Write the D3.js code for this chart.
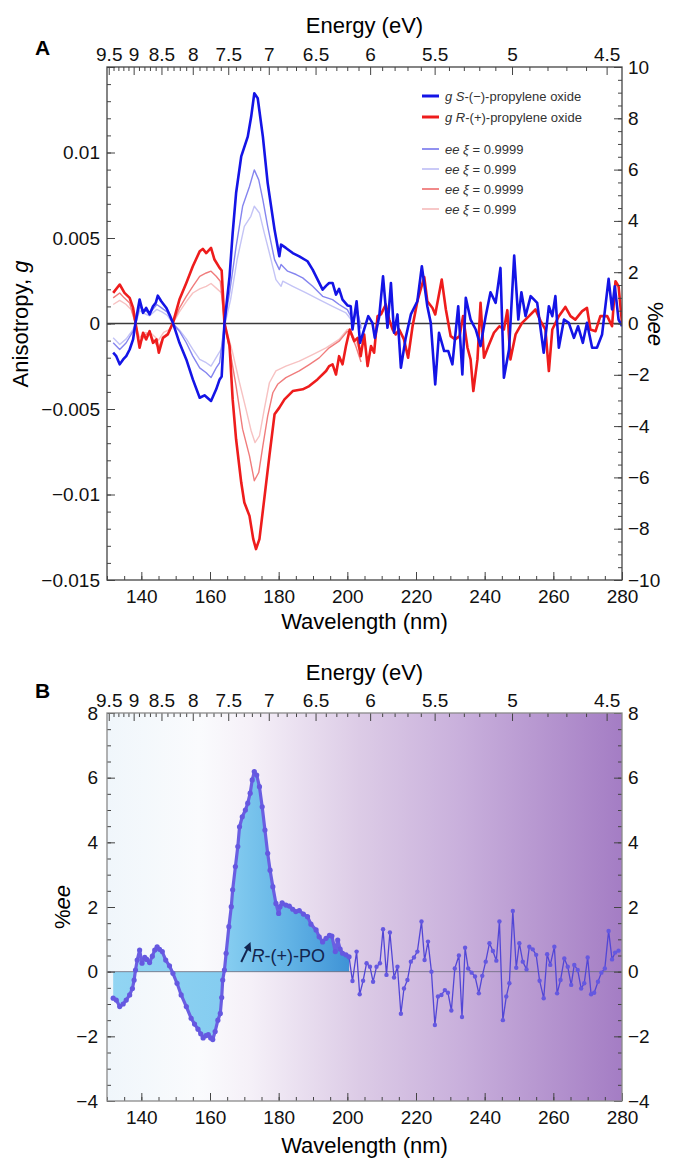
<!DOCTYPE html>
<html>
<head>
<meta charset="utf-8">
<script src="https://cdn.jsdelivr.net/npm/d3@7"></script>
<style>
    body { margin: 0; background: #fff; }
    svg { display: block; font-family: 'Liberation Sans', Arial, Helvetica, sans-serif; }
</style>
</head>
<body>
<svg id="fig" width="684" height="1159"></svg>
<script>
// ---------- Panel A data: anisotropy g (in units of 1e-3) ----------
const wlS = [131.8,132.7,133.7,134.7,135.6,136.6,137.6,138.3,139.5,140.5,141.4,142.4,143.4,144.2,144.8,145.8,147.3,148.2,149.2,151.1,153.1,155.0,157.0,158.4,160.3,161.8,162.8,163.4,164.2,165.7,166.6,167.6,169.1,171.0,172.0,172.9,173.9,175.4,176.8,178.8,180.2,180.7,182.1,184.1,186.0,188.4,189.9,192.8,193.8,194.7,195.7,196.7,197.6,198.6,200.1,201.0,201.5,202.7,203.7,204.9,206.1,207.3,208.0,209.3,210.4,211.7,212.7,213.6,214.6,215.6,217.0,218.5,220.4,221.7,223.3,224.3,225.6,226.7,228.2,229.4,230.6,232.3,233.5,234.5,235.9,237.4,238.8,240.3,241.7,243.2,244.6,245.6,247.1,248.6,249.8,250.7,251.9,253.4,255.3,257.2,258.7,259.7,260.6,261.6,263.1,264.5,266.0,267.2,268.6,269.8,271.3,272.7,274.2,276.1,277.1,277.9,279.0,280.0];
const gS = [-1.71,-1.91,-2.39,-2.10,-1.91,-1.52,-0.93,0.04,1.40,0.62,0.91,0.53,1.01,1.21,1.63,1.30,0.91,0.53,0.04,-1.13,-2.10,-3.27,-4.34,-4.20,-4.53,-3.85,-3.27,-3.10,0.00,2.76,5.29,7.63,9.77,10.93,12.10,13.46,13.17,10.93,8.21,5.49,3.93,4.61,4.42,4.12,3.93,3.64,3.15,1.98,2.20,2.37,2.37,1.69,2.02,1.40,1.05,1.01,-0.35,1.30,-1.13,-0.35,0.43,0.04,-0.84,0.43,2.76,-0.25,2.37,-0.54,0.53,-2.59,-0.84,0.53,1.30,3.35,1.01,0.04,-3.56,-0.54,-1.61,-1.61,-2.39,1.01,-2.98,1.50,0.23,-0.35,-1.32,0.43,1.83,1.21,3.25,-3.17,-1.52,3.97,0.23,1.83,0.43,1.60,1.21,-1.71,1.01,0.43,1.60,-1.42,0.23,0.04,-0.84,-0.16,-1.13,0.04,-1.42,-1.42,-0.64,2.61,0.82,2.18,0.23,-0.16];

const wlR = [131.8,133.7,135.1,136.6,137.6,138.3,139.5,140.5,141.4,142.4,143.4,144.4,145.1,146.3,147.7,149.2,151.1,153.1,155.0,157.0,157.9,158.9,160.3,161.3,162.8,163.4,164.2,165.7,166.6,167.6,169.1,170.0,171.5,172.6,173.4,174.4,175.8,177.3,178.8,180.2,181.7,184.1,187.0,188.9,191.3,193.8,194.7,195.7,196.7,197.6,198.6,199.6,200.7,202.0,203.0,203.9,204.9,205.9,206.9,207.8,208.8,209.8,211.2,212.2,213.2,214.1,215.1,216.5,217.7,219.0,220.4,222.4,223.3,224.8,225.6,227.5,228.7,230.1,231.4,232.7,233.7,235.0,235.9,236.7,237.9,238.8,239.8,241.1,242.7,244.3,245.6,246.6,247.5,249.0,250.9,252.9,254.8,256.3,257.7,258.7,259.7,261.6,263.5,265.0,266.4,268.4,269.8,270.8,272.3,273.7,275.7,277.1,278.1,279.0,280.0];
const gR = [1.79,2.28,1.79,1.50,0.91,0.04,-1.42,-0.54,-0.93,-0.45,-1.13,-0.93,-1.71,-0.84,-0.64,0.04,1.40,2.37,3.35,4.22,4.36,4.12,4.42,3.74,3.25,3.10,0.04,-1.32,-4.44,-6.77,-9.30,-10.47,-11.25,-12.61,-13.19,-12.61,-10.27,-7.74,-5.31,-4.92,-4.44,-3.95,-3.85,-3.66,-3.27,-2.78,-2.49,-2.39,-2.98,-1.91,-2.39,-1.32,-0.35,-1.03,-0.84,-1.91,-0.64,-2.49,-1.32,-1.71,0.43,0.53,1.11,0.23,-0.35,-0.64,-0.35,-0.93,-2.00,-0.16,1.30,2.72,1.30,0.91,0.53,2.57,0.82,-0.74,-0.93,-0.74,0.43,-1.42,-2.10,-3.95,-2.10,1.21,-2.00,-1.32,-0.54,-0.16,-0.35,0.78,-2.10,-0.64,0.04,0.43,0.82,0.14,-0.35,-2.78,-0.35,0.43,0.97,0.43,0.23,0.72,0.91,-0.35,-0.45,0.43,0.43,-0.16,2.47,2.18,0.04];

// ---------- Panel A data: %ee curves (right axis) ----------
const wlEeS4 = [131.8,133.7,135.6,137.6,138.4,139.5,141.0,142.4,144.5,146.0,147.5,149.2,151.1,153.1,155.0,157.0,158.9,160.3,161.8,162.8,164.2,165.7,167.6,169.5,171.5,172.9,174.2,175.4,176.8,178.8,180.2,180.7,182.6,185.1,187.0,189.9,192.8,195.7,197.6,200.0,201.5,203.0,204.0];
const eeS4 = [-0.75,-1.01,-0.75,-0.30,0.03,0.65,0.50,0.40,0.74,0.60,0.45,0.00,-0.30,-0.75,-1.27,-1.73,-1.92,-2.11,-1.73,-1.53,0.00,1.19,3.00,4.57,5.34,5.99,5.60,4.82,3.79,2.49,2.10,2.30,2.04,1.91,1.78,1.45,1.06,0.93,0.74,0.54,0.16,0.50,-0.20];
const wlEeS3 = [131.8,133.7,135.6,137.6,138.4,139.5,141.0,142.4,144.5,146.0,147.5,149.2,151.1,153.1,155.0,157.0,158.9,160.3,162.3,163.3,164.4,166.0,167.9,170.0,171.9,172.9,174.4,175.8,177.3,179.2,180.7,181.2,184.1,188.0,191.8,195.7,199.6,201.5,203.0,204.0];
const eeS3 = [-0.56,-0.82,-0.60,-0.23,0.00,0.50,0.38,0.30,0.55,0.45,0.33,0.00,-0.25,-0.60,-1.01,-1.40,-1.53,-1.66,-1.21,-1.00,0.00,0.93,2.49,3.79,4.18,4.57,4.31,3.53,2.75,1.71,1.45,1.65,1.45,1.19,0.93,0.67,0.41,0.09,0.40,-0.10];
const wlEeR4 = [131.8,133.7,135.0,136.6,138.3,139.5,141.0,142.4,143.5,145.0,146.5,148.0,149.2,151.1,153.1,155.0,157.0,158.9,160.3,161.8,163.0,164.2,166.1,167.6,169.5,171.5,172.9,174.2,175.4,176.8,178.3,179.7,182.1,186.0,188.9,191.8,194.7,197.6,200.0,201.0,202.5,204.0];
const eeR4 = [1.00,1.19,1.00,0.80,0.00,-0.80,-0.45,-0.35,-0.65,-0.95,-0.50,-0.35,0.00,0.60,1.06,1.45,1.84,1.97,2.04,1.84,1.65,0.00,-1.27,-2.44,-4.12,-5.16,-6.13,-5.81,-4.77,-3.61,-2.70,-2.37,-2.11,-1.85,-1.60,-1.34,-0.95,-0.69,-0.30,-0.40,-0.90,-1.50];
const wlEeR3 = [131.8,133.7,135.5,137.0,138.3,139.5,141.0,143.0,145.0,146.5,148.0,149.2,151.1,153.1,155.0,157.0,158.9,160.3,162.3,163.3,164.3,166.6,168.6,170.5,172.0,173.1,174.4,175.8,177.3,179.2,182.1,186.0,189.9,193.8,197.6,200.0,201.0,202.5,204.0];
const eeR3 = [0.74,0.90,0.75,0.55,0.00,-0.55,-0.35,-0.40,-0.65,-0.35,-0.25,0.00,0.45,0.85,1.19,1.35,1.45,1.56,1.32,1.20,0.00,-1.14,-2.31,-3.35,-4.19,-4.64,-4.38,-3.35,-2.31,-1.85,-1.66,-1.47,-1.21,-0.95,-0.62,-0.23,-0.30,-0.70,-1.20];

// ---------- Panel B data: %ee of R-(+)-PO ----------
const wlB = [131.8,132.7,133.7,134.7,135.6,136.6,137.4,137.9,138.3,138.8,139.5,140.2,141.0,141.6,142.4,143.2,143.9,144.6,145.3,146.1,147.1,148.2,149.2,150.4,151.6,153.1,154.5,155.5,156.5,157.3,158.0,158.8,159.5,160.2,160.8,161.5,162.3,163.0,163.4,163.7,164.2,164.7,165.5,166.2,166.6,167.4,168.1,168.6,169.4,170.3,171.0,171.7,172.3,172.9,173.6,174.4,175.2,176.0,176.8,177.5,178.3,179.2,180.0,180.4,181.0,182.1,183.1,184.1,185.0,186.0,187.2,188.4,189.4,190.9,191.8,192.8,193.8,194.8,195.5,196.5,197.2,197.9,198.6,199.6,200.5,201.5,202.7,203.6,204.6,205.6,206.6,207.5,208.5,209.5,210.4,211.4,212.4,213.6,214.6,215.6,216.5,217.5,218.5,219.4,220.4,221.6,222.5,223.5,224.5,225.5,226.4,227.4,228.4,229.3,230.3,231.3,232.5,233.4,234.3,235.2,236.2,237.2,238.3,239.3,240.3,241.4,242.4,243.4,244.3,245.3,246.3,247.2,248.2,249.2,250.1,251.1,252.2,253.0,254.0,255.0,256.0,257.2,258.2,259.1,260.3,261.1,262.1,263.2,264.2,265.2,266.1,267.1,268.1,269.0,270.0,271.0,271.9,273.0,274.0,275.0,276.1,277.1,278.0,279.0];
const eeB = [-0.82,-0.88,-1.08,-1.00,-0.88,-0.72,-0.52,-0.26,0.05,0.36,0.67,0.26,0.44,0.38,0.28,0.48,0.67,0.77,0.69,0.62,0.36,0.18,-0.05,-0.36,-0.72,-1.08,-1.44,-1.62,-1.78,-1.92,-2.05,-1.98,-1.95,-2.05,-2.10,-1.85,-1.50,-1.29,-0.80,-0.26,0.05,0.57,1.39,2.01,2.53,3.25,3.87,4.48,4.79,5.00,5.21,5.52,5.93,6.19,6.08,5.72,5.10,4.38,3.66,3.14,2.63,2.11,1.80,2.01,2.13,2.06,2.03,1.93,1.86,1.89,1.78,1.70,1.47,1.29,1.08,0.92,1.03,1.12,1.10,0.62,0.98,0.70,0.57,0.52,0.46,-0.29,0.62,-0.70,-0.28,0.26,0.15,-0.31,0.15,0.26,1.31,-0.10,1.21,-0.18,0.15,-1.30,-0.52,-0.26,0.31,0.44,0.62,1.55,0.36,0.93,0.00,-1.65,-0.77,-0.72,-0.57,-0.65,-1.20,0.10,0.50,-1.40,0.74,0.10,-0.03,-0.15,-0.67,-0.13,0.31,0.88,0.64,0.34,1.55,-1.50,-0.77,-0.36,1.88,0.12,0.88,0.31,0.07,0.77,0.69,0.52,-0.28,-0.82,0.54,0.21,0.77,-0.67,-0.26,0.41,0.15,-0.41,0.21,0.05,-0.52,-0.36,0.44,-0.70,-0.65,-0.31,-0.03,0.10,1.26,0.38,0.59,0.65];
const fillEndWl = 200.5; // shaded region ends here

// ---------- Axis tick values ----------
const energyTicks = [9.5, 9, 8.5, 8, 7.5, 7, 6.5, 6, 5.5, 5, 4.5];
const wlTicks = [140, 160, 180, 200, 220, 240, 260, 280];
const gTicks = [-15, -10, -5, 0, 5, 10, 15];
const eeTicksA = [-10, -8, -6, -4, -2, 0, 2, 4, 6, 8, 10];
const eeTicksB = [-4, -2, 0, 2, 4, 6, 8];

const legendItems = [
    { kind: "g", chir: "S", rest: "-(\u2212)-propylene oxide", color: "#1414e6", width: 2.6 },
    { kind: "g", chir: "R", rest: "-(+)-propylene oxide", color: "#ee1c1c", width: 2.6 },
    { kind: "ee", rest: " = 0.9999", color: "#8585ef", width: 1.4 },
    { kind: "ee", rest: " = 0.999", color: "#c4c4f6", width: 1.4 },
    { kind: "ee", rest: " = 0.9999", color: "#f07c7c", width: 1.4 },
    { kind: "ee", rest: " = 0.999", color: "#f7c2c2", width: 1.4 }
];

const hc = 1239.84; // eV*nm
const tickFont = 19;
const titleFont = 22;

const svg = d3.select("#fig");
svg.append("rect").attr("width", 684).attr("height", 1159).attr("fill", "#fff");

const xScale = d3.scaleLinear().domain([130, 280]).range([107, 622]);
const yG = d3.scaleLinear().domain([-15, 15]).range([580, 67]);
const yEeA = d3.scaleLinear().domain([-10, 10]).range([580, 67]);
const yEeB = d3.scaleLinear().domain([-4, 8]).range([1101, 713]);

const minorEnergy = d3.range(45, 96).filter(k => k % 5 !== 0).map(k => hc / (k / 10));
const minorWl = d3.range(130, 281, 5);

const styleAxis = (g) => {
    g.attr("font-family", null).attr("font-size", tickFont);
    g.select(".domain").remove();
    g.selectAll(".tick line").attr("stroke", "#444").attr("stroke-width", 1);
    g.selectAll(".tick text").attr("fill", "#111");
};

// Draws the frame, all ticks and tick labels for one panel
const drawFrame = (yLeft, yRight, leftMajor, leftMinor, leftFmt, rightMajor, rightMinor, rightFmt, frameColor, leftPad) => {
    const [bottom, top] = yLeft.range();
    const [left, right] = xScale.range();
    const axes = svg.append("g");

    // top energy axis
    axes.append("g").attr("transform", `translate(0,${top})`)
        .call(d3.axisTop(xScale).tickValues(minorEnergy).tickSizeInner(-4).tickSizeOuter(0).tickFormat(""))
        .call(styleAxis);
    axes.append("g").attr("transform", `translate(0,${top})`)
        .call(d3.axisTop(xScale).tickValues(energyTicks.map(e => hc / e)).tickSizeInner(-8).tickSizeOuter(0)
            .tickPadding(6).tickFormat((d, i) => energyTicks[i]))
        .call(styleAxis);

    // bottom wavelength axis
    axes.append("g").attr("transform", `translate(0,${bottom})`)
        .call(d3.axisBottom(xScale).tickValues(minorWl).tickSizeInner(-4).tickSizeOuter(0).tickFormat(""))
        .call(styleAxis);
    axes.append("g").attr("transform", `translate(0,${bottom})`)
        .call(d3.axisBottom(xScale).tickValues(wlTicks).tickSizeInner(-8).tickSizeOuter(0).tickPadding(10))
        .call(styleAxis);

    // left axis
    axes.append("g").attr("transform", `translate(${left},0)`)
        .call(d3.axisLeft(yLeft).tickValues(leftMinor).tickSizeInner(-4).tickSizeOuter(0).tickFormat(""))
        .call(styleAxis);
    axes.append("g").attr("transform", `translate(${left},0)`)
        .call(d3.axisLeft(yLeft).tickValues(leftMajor).tickSizeInner(-8).tickSizeOuter(0).tickPadding(leftPad).tickFormat(leftFmt))
        .call(styleAxis);

    // right axis
    axes.append("g").attr("transform", `translate(${right},0)`)
        .call(d3.axisRight(yRight).tickValues(rightMinor).tickSizeInner(-4).tickSizeOuter(0).tickFormat(""))
        .call(styleAxis);
    axes.append("g").attr("transform", `translate(${right},0)`)
        .call(d3.axisRight(yRight).tickValues(rightMajor).tickSizeInner(-8).tickSizeOuter(0).tickPadding(6).tickFormat(rightFmt))
        .call(styleAxis);

    axes.append("rect")
        .attr("x", left).attr("y", top)
        .attr("width", right - left).attr("height", bottom - top)
        .attr("fill", "none").attr("stroke", frameColor).attr("stroke-width", 1.3);
};

const minusFmt = d => d < 0 ? "\u2212" + Math.abs(d) : String(d);

// ===================== PANEL A =====================
svg.append("clipPath").attr("id", "clipA").append("rect")
    .attr("x", 107).attr("y", 67).attr("width", 515).attr("height", 513);

const plotA = svg.append("g").attr("clip-path", "url(#clipA)");

// zero line
plotA.append("line")
    .attr("x1", xScale(130)).attr("x2", xScale(280))
    .attr("y1", yG(0)).attr("y2", yG(0))
    .attr("stroke", "#3a3a3a").attr("stroke-width", 1.3);

const lineG = d3.line().x(d => xScale(d[0])).y(d => yG(d[1]));
const lineEeA = d3.line().x(d => xScale(d[0])).y(d => yEeA(d[1]));

const eeSeries = [
    { wl: wlEeS3, v: eeS3, color: legendItems[3].color },
    { wl: wlEeR3, v: eeR3, color: legendItems[5].color },
    { wl: wlEeS4, v: eeS4, color: legendItems[2].color },
    { wl: wlEeR4, v: eeR4, color: legendItems[4].color }
];
eeSeries.forEach(s => {
    plotA.append("path")
        .datum(d3.zip(s.wl, s.v))
        .attr("d", lineEeA)
        .attr("fill", "none")
        .attr("stroke", s.color)
        .attr("stroke-width", 1.4)
        .attr("stroke-linejoin", "round");
});

[{ wl: wlR, v: gR, color: legendItems[1].color }, { wl: wlS, v: gS, color: legendItems[0].color }].forEach(s => {
    plotA.append("path")
        .datum(d3.zip(s.wl, s.v))
        .attr("d", lineG)
        .attr("fill", "none")
        .attr("stroke", s.color)
        .attr("stroke-width", 2.6)
        .attr("stroke-linejoin", "round");
});

drawFrame(yG, yEeA,
    gTicks, d3.range(-15, 16, 1), d => d === 15 ? "" : minusFmt(d / 1000),
    eeTicksA, d3.range(-10, 10.1, 0.5), minusFmt,
    "#444", 7);

// legend
const legend = svg.append("g").attr("font-size", 13).attr("fill", "#333");
const legendRows = [96, 117, 149, 169, 189, 209];
legendItems.forEach((item, i) => {
    const y = legendRows[i];
    legend.append("line")
        .attr("x1", 422).attr("x2", 439).attr("y1", y).attr("y2", y)
        .attr("stroke", item.color).attr("stroke-width", item.width + 0.4);
    const t = legend.append("text").attr("x", 445).attr("y", y + 4.5);
    if (item.kind === "g") {
        t.append("tspan").attr("font-style", "italic").text("g ");
        t.append("tspan").attr("font-style", "italic").text(item.chir);
        t.append("tspan").text(item.rest);
    } else {
        t.append("tspan").attr("font-style", "italic").text("ee \u03BE");
        t.append("tspan").text(item.rest);
    }
});

// titles panel A
svg.append("text").attr("x", 35).attr("y", 55).attr("font-size", 21).attr("font-weight", "bold").text("A");
svg.append("text").attr("x", 364.5).attr("y", 33).attr("text-anchor", "middle").attr("font-size", titleFont).text("Energy (eV)");
svg.append("text").attr("x", 364.5).attr("y", 629).attr("text-anchor", "middle").attr("font-size", titleFont).text("Wavelength (nm)");
const anis = svg.append("text").attr("transform", "translate(28,324) rotate(-90)")
    .attr("text-anchor", "middle").attr("font-size", titleFont);
anis.append("tspan").text("Anisotropy, ");
anis.append("tspan").attr("font-style", "italic").text("g");
const eeRight = svg.append("text").attr("transform", "translate(648,324) rotate(90)")
    .attr("text-anchor", "middle").attr("font-size", titleFont);
eeRight.append("tspan").text("%");
eeRight.append("tspan").attr("font-style", "italic").text("ee");

// ===================== PANEL B =====================
const defs = svg.append("defs");
const bg = defs.append("linearGradient").attr("id", "bgB")
    .attr("gradientUnits", "userSpaceOnUse")
    .attr("x1", xScale(130)).attr("x2", xScale(280)).attr("y1", 0).attr("y2", 0);
[[0, "#f0f6fb"], [0.18, "#fafbfd"], [0.28, "#f5f0f8"], [0.49, "#dccbe6"], [0.685, "#c9b0dc"], [1, "#a47dc4"]]
    .forEach(([o, c]) => bg.append("stop").attr("offset", o).attr("stop-color", c));

const fillGrad = defs.append("linearGradient").attr("id", "fillB")
    .attr("gradientUnits", "userSpaceOnUse")
    .attr("x1", xScale(131)).attr("x2", xScale(fillEndWl)).attr("y1", 0).attr("y2", 0);
[[0, "#92d5f3"], [0.5, "#84ccf0"], [0.75, "#62b3e5"], [1, "#3f93d6"]]
    .forEach(([o, c]) => fillGrad.append("stop").attr("offset", o).attr("stop-color", c));

svg.append("rect")
    .attr("x", xScale(130)).attr("y", yEeB(8))
    .attr("width", xScale(280) - xScale(130)).attr("height", yEeB(-4) - yEeB(8))
    .attr("fill", "url(#bgB)");

const dataB = d3.zip(wlB, eeB);
const filledB = dataB.filter(d => d[0] <= fillEndWl);

svg.append("path")
    .datum(filledB)
    .attr("d", d3.area().x(d => xScale(d[0])).y0(yEeB(0)).y1(d => yEeB(d[1])))
    .attr("fill", "url(#fillB)");

svg.append("line")
    .attr("x1", xScale(130)).attr("x2", xScale(280))
    .attr("y1", yEeB(0)).attr("y2", yEeB(0))
    .attr("stroke", "#6a6a78").attr("stroke-width", 0.8);

const lineB = d3.line().x(d => xScale(d[0])).y(d => yEeB(d[1]));
svg.append("path").datum(dataB).attr("d", lineB)
    .attr("fill", "none").attr("stroke", "#5246d6").attr("stroke-width", 1.3).attr("stroke-linejoin", "round");
svg.append("path").datum(filledB).attr("d", lineB)
    .attr("fill", "none").attr("stroke", "#6a5ee2").attr("stroke-width", 3.2).attr("stroke-linejoin", "round");

svg.append("g").selectAll("circle")
    .data(dataB)
    .join("circle")
    .attr("cx", d => xScale(d[0]))
    .attr("cy", d => yEeB(d[1]))
    .attr("r", d => d[0] <= fillEndWl ? 2.6 : 2.2)
    .attr("fill", "#6558e0");

drawFrame(yEeB, yEeB,
    eeTicksB, d3.range(-4, 8.1, 0.5), minusFmt,
    eeTicksB, d3.range(-4, 8.1, 0.5), minusFmt,
    "#8a8a8a", 9);

// annotation
const ann = svg.append("g");
ann.append("line")
    .attr("x1", xScale(169.1)).attr("y1", yEeB(0.3))
    .attr("x2", xScale(171.0)).attr("y2", yEeB(0.72))
    .attr("stroke", "#13254f").attr("stroke-width", 2);
ann.append("path")
    .attr("d", d3.line()([[xScale(171.8), yEeB(0.92)], [xScale(169.9), yEeB(0.74)], [xScale(172.0), yEeB(0.6)]]) + "Z")
    .attr("fill", "#13254f");
const annText = ann.append("text")
    .attr("x", xScale(172.1)).attr("y", yEeB(0.3))
    .attr("font-size", 18).attr("fill", "#13254f");
annText.append("tspan").attr("font-style", "italic").text("R");
annText.append("tspan").text("-(+)-PO");

// titles panel B
svg.append("text").attr("x", 35).attr("y", 698).attr("font-size", 21).attr("font-weight", "bold").text("B");
svg.append("text").attr("x", 364.5).attr("y", 680).attr("text-anchor", "middle").attr("font-size", titleFont).text("Energy (eV)");
svg.append("text").attr("x", 364.5).attr("y", 1153).attr("text-anchor", "middle").attr("font-size", titleFont).text("Wavelength (nm)");
const eeLeft = svg.append("text").attr("transform", "translate(70,907) rotate(-90)")
    .attr("text-anchor", "middle").attr("font-size", titleFont);
eeLeft.append("tspan").text("%");
eeLeft.append("tspan").attr("font-style", "italic").text("ee");
</script>
</body>
</html>
